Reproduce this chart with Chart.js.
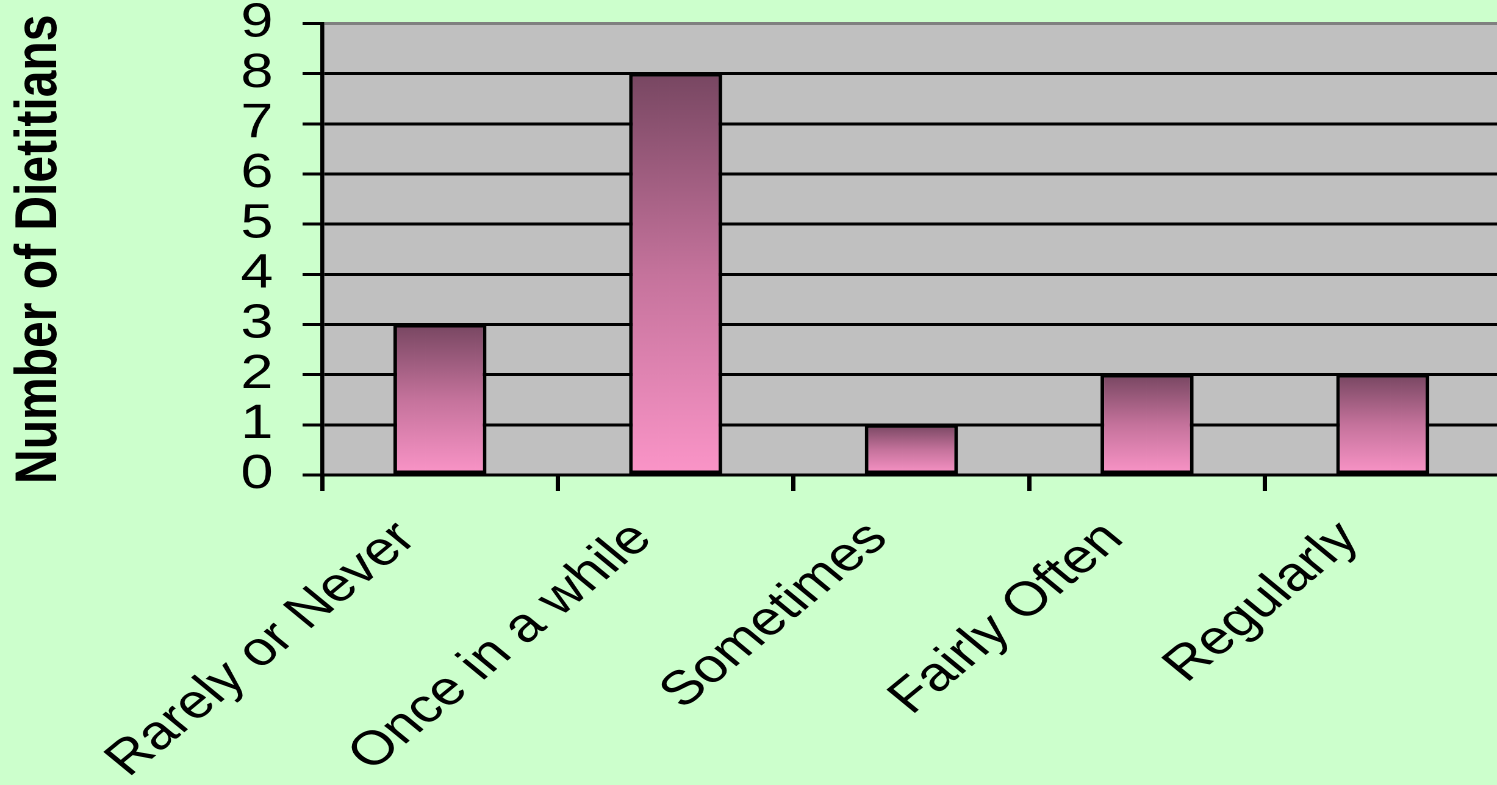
<!DOCTYPE html>
<html>
<head>
<meta charset="utf-8">
<title>Number of Dietitians</title>
<script src="https://cdn.jsdelivr.net/npm/chart.js@4/dist/chart.umd.min.js"></script>
<style>
  html, body { margin: 0; padding: 0; background: #CCFFCC; overflow: hidden; }
  /* the sheet is drawn narrow and widened, so the lettering comes out broad */
  #wrap { width: 1230px; height: 785px; transform: scaleX(1.22); transform-origin: 0 0; }
</style>
</head>
<body>
<div id="wrap"><canvas id="dietitians"></canvas></div>
<script>
// ** Dietitian frequency bar chart **//
var categories = ['Rarely or Never', 'Once in a while', 'Sometimes', 'Fairly Often', 'Regularly'];
var counts = [3, 8, 1, 2, 2];
var yMin = 0;
var yMax = 9;
var yTitle = 'Number of Dietitians';

var fontFamily = "'Liberation Sans', Arial, sans-serif";

// gray plot area behind the bars
var plotBackground = {
    id: 'plotBackground',
    beforeDraw: function(chart) {
        var a = chart.chartArea;
        var c = chart.ctx;
        c.save();
        c.fillStyle = '#C0C0C0';
        c.fillRect(a.left, a.top, a.right - a.left, a.bottom - a.top);
        c.restore();
    }
};

// each bar shades from plum at its top down to pink at the baseline
function barFill(ctx) {
    var chart = ctx.chart;
    var y = chart.scales.y;
    if (!chart.chartArea || !y) return '#C06C98';
    var top = y.getPixelForValue(ctx.raw);
    var bottom = y.getPixelForValue(0);
    var g = chart.ctx.createLinearGradient(0, top, 0, bottom);
    g.addColorStop(0, '#784762');
    g.addColorStop(0.5, '#C5739C');
    g.addColorStop(1, '#FB95C8');
    return g;
}

var ctx1 = document.getElementById('dietitians');
var chart = new Chart(ctx1, {
    type: 'bar',
    data: {
        labels: categories,
        datasets: [{
            data: counts,
            backgroundColor: barFill,
            borderColor: '#000000',
            borderWidth: 3,
            borderSkipped: false,
            categoryPercentage: 1,
            barPercentage: 0.395
        }]
    },
    options: {
        responsive: true,
        maintainAspectRatio: false,
        devicePixelRatio: 2,
        animation: false,
        layout: { padding: 0 },
        plugins: {
            legend: { display: false },
            tooltip: { enabled: false }
        },
        scales: {
            x: {
                offset: true,
                grid: {
                    offset: true,
                    drawOnChartArea: false,
                    drawTicks: true,
                    tickLength: 16,
                    lineWidth: 3.5,
                    color: '#000000'
                },
                border: { display: true, color: '#000000', width: 3 },
                ticks: {
                    color: '#000000',
                    font: { family: fontFamily, size: 48, lineHeight: 1 },
                    minRotation: 45,
                    maxRotation: 45,
                    autoSkip: false,
                    padding: 23,
                    labelOffset: -27
                },
                afterFit: function(axis) { axis.height = 310; }
            },
            y: {
                min: yMin,
                max: yMax,
                ticks: {
                    stepSize: 1,
                    autoSkip: false,
                    color: '#000000',
                    padding: 24,
                    font: { family: fontFamily, size: 48, lineHeight: 1 }
                },
                grid: {
                    color: function(c) { return c.tick && c.tick.value === yMax ? '#808080' : '#000000'; },
                    tickColor: '#000000',
                    lineWidth: 3,
                    tickLength: 16
                },
                border: { display: true, color: '#000000', width: 3.3 },
                title: {
                    display: true,
                    text: yTitle,
                    color: '#000000',
                    padding: { top: 4, bottom: 0 },
                    font: { family: fontFamily, size: 48, weight: 'bold', lineHeight: 1.2 }
                },
                afterFit: function(axis) {
                    axis.width = 264;
                    axis.paddingTop = 23.5;
                    axis.paddingBottom = 0;
                }
            }
        }
    },
    plugins: [plotBackground]
});
</script>
</body>
</html>
